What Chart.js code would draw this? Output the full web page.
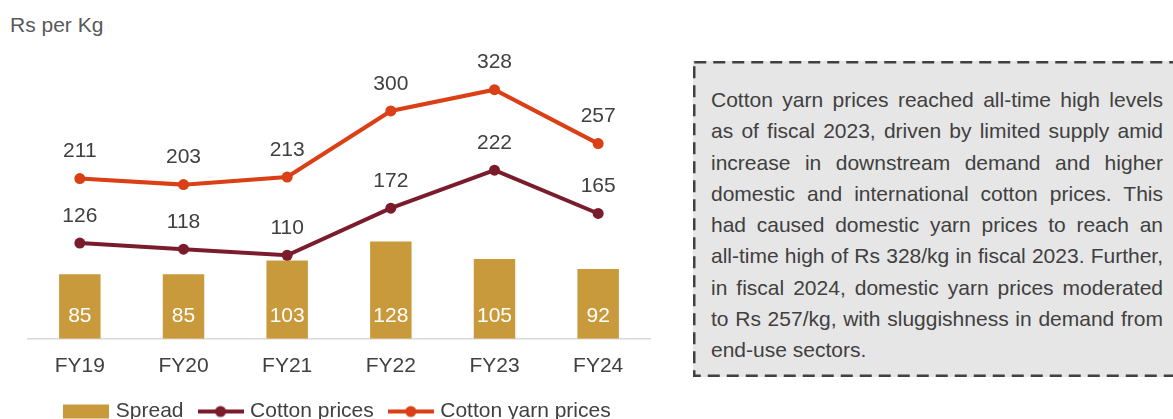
<!DOCTYPE html>
<html>
<head>
<meta charset="utf-8">
<script src="https://cdn.jsdelivr.net/npm/chart.js@4.4.1/dist/chart.umd.min.js"></script>
<style>
    html, body { margin: 0; padding: 0; background: #fff; overflow: hidden; width: 1173px; height: 419px; }
    body { position: relative; font-family: "Liberation Sans", Arial, sans-serif; }
    #unit { position: absolute; left: 10px; top: 13px; font-size: 21px; color: #595959; }
    #chartWrap { position: absolute; left: 0; top: 0; width: 680px; height: 437px; }
    #note { position: absolute; left: 693px; top: 61px; width: 520px; height: 316px; background: #e6e6e6; }
    #note svg { position: absolute; left: 0; top: 0; }
    #noteText { position: absolute; left: 18px; top: 23px; width: 452px; font-size: 21px; line-height: 31.25px; color: #404040; }
    #noteText div { text-align: justify; text-align-last: justify; white-space: nowrap; }
    #noteText div.last { text-align-last: left; }
</style>
</head>
<body>
<div id="unit">Rs per Kg</div>
<div id="chartWrap"><canvas id="chart" width="680" height="437"></canvas></div>
<div id="note">
    <svg width="520" height="316"><rect x="1.25" y="1.25" width="540" height="313.5" fill="none" stroke="#404040" stroke-width="2.5" stroke-dasharray="12 7"/></svg>
    <div id="noteText">
        <div>Cotton yarn prices reached all-time high levels</div>
        <div>as of fiscal 2023, driven by limited supply amid</div>
        <div>increase in downstream demand and higher</div>
        <div>domestic and international cotton prices. This</div>
        <div>had caused domestic yarn prices to reach an</div>
        <div>all-time high of Rs 328/kg in fiscal 2023. Further,</div>
        <div>in fiscal 2024, domestic yarn prices moderated</div>
        <div>to Rs 257/kg, with sluggishness in demand from</div>
        <div class="last">end-use sectors.</div>
    </div>
</div>
<script>
const years = ["FY19", "FY20", "FY21", "FY22", "FY23", "FY24"];
const spread = [85, 85, 103, 128, 105, 92];
const cottonPrices = [126, 118, 110, 172, 222, 165];
const yarnPrices = [211, 203, 213, 300, 328, 257];

const GOLD = "#C99A3B";
const MAROON = "#7B1C2C";
const ORANGE = "#DA3F16";
const TEXT = "#404040";
const FONT = "'Liberation Sans', Arial, sans-serif";

// legend swatch drawn on a small canvas, used as pointStyle
function makeSwatch(color, isLine) {
    let c = document.createElement("canvas");
    c.width = 46;
    c.height = 16;
    let ctx = c.getContext("2d");
    if (isLine) {
        ctx.strokeStyle = color;
        ctx.lineWidth = 4;
        ctx.beginPath();
        ctx.moveTo(0, 8);
        ctx.lineTo(46, 8);
        ctx.stroke();
        ctx.fillStyle = color;
        ctx.beginPath();
        ctx.arc(23, 8, 5.5, 0, Math.PI * 2);
        ctx.fill();
    } else {
        ctx.fillStyle = color;
        ctx.fillRect(0, 1, 46, 14);
    }
    return c;
}

const valueLabels = {
    id: "valueLabels",
    afterDatasetsDraw(chart) {
        let ctx = chart.ctx;
        ctx.save();
        ctx.font = `21px ${FONT}`;
        ctx.textAlign = "center";
        ctx.textBaseline = "middle";
        chart.data.datasets.forEach((ds, i) => {
            let meta = chart.getDatasetMeta(i);
            meta.data.forEach((el, idx) => {
                let v = ds.data[idx];
                if (ds.type == "bar") {
                    ctx.fillStyle = "#ffffff";
                    ctx.fillText(v, el.x, el.base - 23);
                } else {
                    ctx.fillStyle = TEXT;
                    ctx.fillText(v, el.x, el.y - 27);
                }
            });
        });
        ctx.restore();
    }
};

const swatches = [makeSwatch(GOLD, false), makeSwatch(MAROON, true), makeSwatch(ORANGE, true)];

new Chart("chart", {
    data: {
        labels: years,
        datasets: [
            {
                type: "bar",
                label: "Spread",
                data: spread,
                backgroundColor: GOLD,
                barPercentage: 0.4,
                categoryPercentage: 1,
                order: 2
            },
            {
                type: "line",
                label: "Cotton prices",
                data: cottonPrices,
                borderColor: MAROON,
                backgroundColor: MAROON,
                borderWidth: 4,
                pointRadius: 5.5,
                pointBorderWidth: 0,
                tension: 0,
                order: 1
            },
            {
                type: "line",
                label: "Cotton yarn prices",
                data: yarnPrices,
                borderColor: ORANGE,
                backgroundColor: ORANGE,
                borderWidth: 4,
                pointRadius: 5.5,
                pointBorderWidth: 0,
                tension: 0,
                order: 0
            }
        ]
    },
    options: {
        responsive: false,
        animation: false,
        layout: {
            padding: { left: 28, right: 30, top: 35, bottom: 5 }
        },
        scales: {
            x: {
                grid: { display: false, drawTicks: false },
                border: { display: true, color: "#D9D9D9", width: 1.5 },
                ticks: {
                    color: TEXT,
                    padding: 15,
                    font: { family: FONT, size: 21 }
                },
                afterFit: scale => { scale.height -= 11; } // pull the legend up a bit
            },
            y: {
                display: false,
                min: 0,
                max: 400
            }
        },
        plugins: {
            tooltip: { enabled: false },
            legend: {
                position: "bottom",
                labels: {
                    color: TEXT,
                    font: { family: FONT, size: 21 },
                    usePointStyle: true,
                    pointStyleWidth: 38,
                    padding: 18,
                    generateLabels: chart => chart.data.datasets.map((ds, i) => ({
                        text: ds.label,
                        pointStyle: swatches[i],
                        fontColor: TEXT,
                        datasetIndex: i,
                        hidden: false,
                        lineWidth: 0
                    }))
                }
            }
        }
    },
    plugins: [valueLabels]
});
</script>
</body>
</html>
